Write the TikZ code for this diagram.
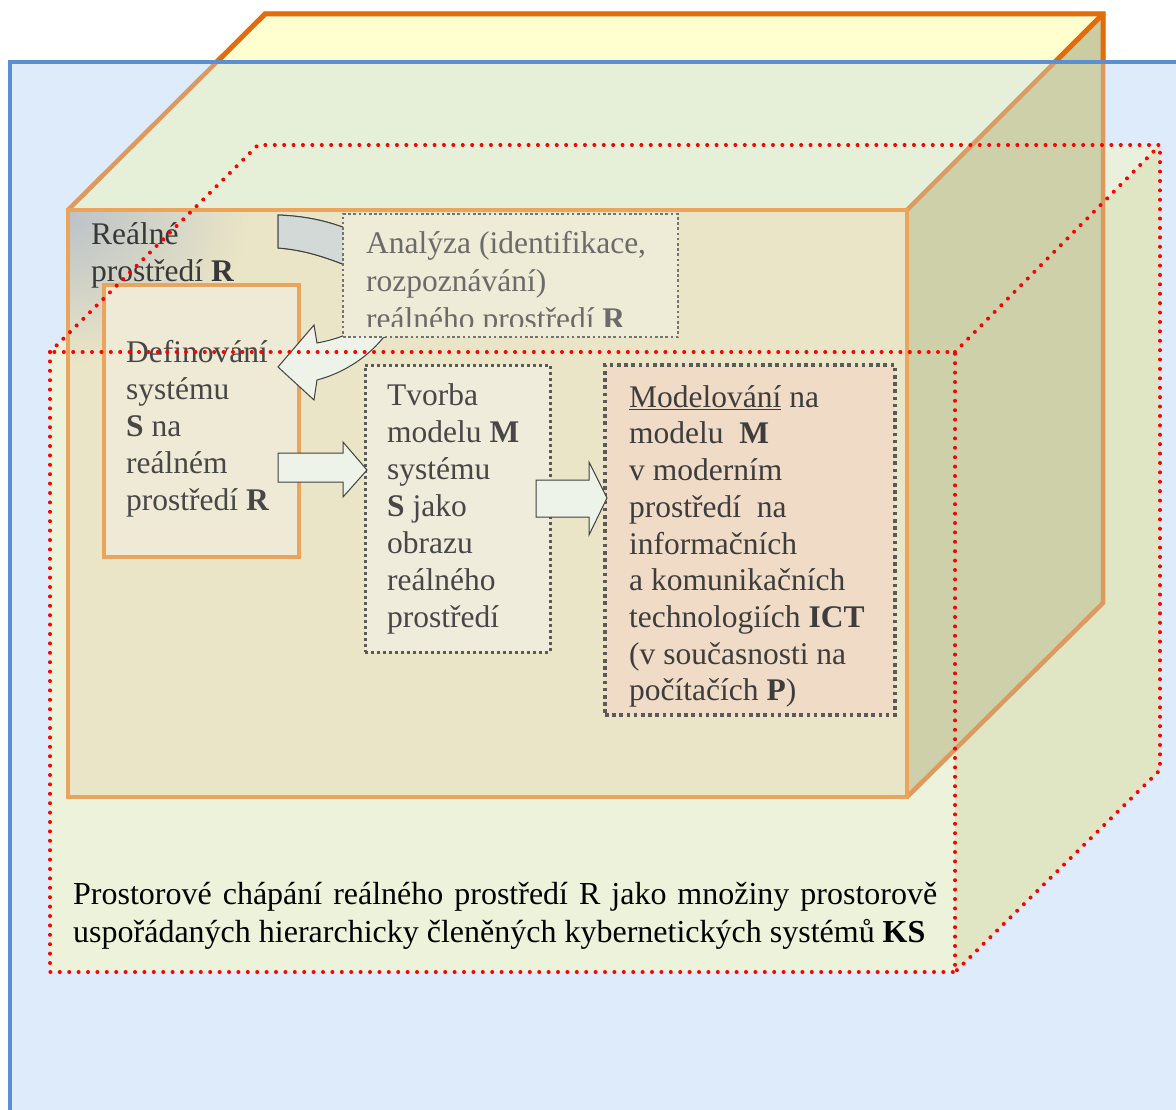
\documentclass[tikz,border=0pt]{standalone}
\usepackage{fontspec}
\setmainfont{Liberation Serif}
\definecolor{bluebg}{HTML}{DDEBFB}
\definecolor{blueline}{HTML}{5B8FD3}
\definecolor{redfront}{HTML}{EDF2DA}
\definecolor{redside}{HTML}{E0E6C4}
\definecolor{redtop}{HTML}{E9F1DC}
\definecolor{otop}{HTML}{E6F0D8}
\definecolor{otopS}{HTML}{FFFFD0}
\definecolor{oside}{HTML}{CDD0A9}
\definecolor{osideS}{HTML}{CCCCA2}
\definecolor{ofront}{HTML}{EAE5C6}
\definecolor{oedgeS}{HTML}{E36C09}
\definecolor{oedge}{HTML}{DC9A60}
\definecolor{ofedge}{HTML}{EBA45C}
\definecolor{gpatch}{HTML}{BAC2C8}
\definecolor{boxfill}{HTML}{EEEBD6}
\definecolor{deffill}{HTML}{EEEAD5}
\definecolor{tvfill}{HTML}{F0ECDC}
\definecolor{modfill}{HTML}{F0DCC6}
\definecolor{arrfill}{HTML}{EEF3EA}
\definecolor{tailfill}{HTML}{D2D9D6}
\definecolor{dotgray}{HTML}{5A5A5A}
\tikzset{
  txt/.style={anchor=base west, inner sep=0pt, font=\fontsize{31.5}{37}\selectfont},
  captxt/.style={anchor=base west, inner sep=0pt, font=\fontsize{32}{38}\selectfont},
  reddot/.style={draw=red, line width=4pt, dash pattern=on 0pt off 9.4pt, line cap=round},
  backedge/.style={draw=oedge, line width=4.5pt, line join=miter},
  backedgeS/.style={draw=oedgeS, line width=5pt, line join=miter},
  blockarrow/.style={fill=arrfill, draw=black!75, line width=1pt, line join=miter},
}
\begin{document}
\begin{tikzpicture}[x=1pt,y=-1pt]
\useasboundingbox (0,0) rectangle (1176,1110);
\fill[white] (0,0) rectangle (1176,1110);
% blue environment
\fill[bluebg] (10,62) rectangle (1180,1115);
% red dotted cube fills
\fill[redfront] (50,352) rectangle (955,972);
\fill[redside] (955,352) -- (1160,145) -- (1160,770) -- (955,972) -- cycle;
\fill[redtop] (50,352) -- (258,145) -- (1160,145) -- (955,352) -- cycle;
% orange cube
\fill[otop] (68,210) -- (265,14) -- (1103,14) -- (907,210) -- cycle;
\fill[oside] (907,210) -- (1103,14) -- (1103,603) -- (907,797) -- cycle;
\fill[ofront] (68,210) rectangle (907,797);
\begin{scope}
  \clip (68,210) rectangle (907,797);
  \shade[inner color=gpatch, outer color=ofront] (60,215) ellipse (190pt and 150pt);
\end{scope}
\draw[backedge] (68,210) -- (265,14) -- (1103,14) -- (1103,603) -- (907,797);
\draw[backedge] (907,210) -- (1103,14);
\begin{scope}
  \clip (0,0) rectangle (1176,62);
  \fill[otopS] (68,210) -- (265,14) -- (1103,14) -- (907,210) -- cycle;
  \fill[osideS] (907,210) -- (1103,14) -- (1103,603) -- (907,797) -- cycle;
  \draw[backedgeS] (68,210) -- (265,14) -- (1103,14) -- (1103,603);
  \draw[backedgeS] (907,210) -- (1103,14);
\end{scope}
\draw[draw=ofedge, line width=4pt] (68,210) rectangle (907,797);
% blue border
\draw[blueline, line width=4.5pt] (10,1115) -- (10,62) -- (1180,62);

% content of the front face
\node[txt, text=black!78] (real1) at (91,245) {Reálné};
\node[txt, text=black!78] (real2) at (91,282) {prostředí \textbf{R}};

\node[draw=ofedge, line width=3.5pt, fill=deffill, minimum width=195pt, minimum height=272pt, inner sep=0pt] (def) at (201.5,421) {};
\node[txt, text=black!72] at (126,362) {Definování};
\node[txt, text=black!72] at (126,399) {systému};
\node[txt, text=black!72] at (126,436) {\textbf{S} na};
\node[txt, text=black!72] at (126,473) {reálném};
\node[txt, text=black!72] at (126,510) {prostředí \textbf{R}};

% curved arrow (analysis -> definition)
\path[blockarrow] (278,215) .. controls (305,216) and (327,221) .. (345,228)
  .. controls (440,260) and (420,320) .. (383,338)
  .. controls (365,360) and (340,374) .. (317,380)
  -- (314,400) -- (278,367) -- (314,325) -- (317,343)
  .. controls (328,341) and (338,338) .. (345,335)
  .. controls (395,300) and (385,270) .. (345,265)
  .. controls (327,258) and (305,250) .. (278,248) -- cycle;
\path[fill=tailfill, draw=black!75, line width=1pt] (278,215) .. controls (305,216) and (327,221) .. (345,228)
  -- (345,265) .. controls (327,258) and (305,250) .. (278,248) -- cycle;

% analysis box
\node[fill=boxfill, draw=dotgray!85, line width=2.5pt, dash pattern=on 2.6pt off 2.6pt, minimum width=335pt, minimum height=123pt, inner sep=0pt] (ana) at (510.5,275.5) {};
\begin{scope}
  \clip (345,216) rectangle (676,326.5);
  \node[txt, text=black!58] at (366,254) {Analýza (identifikace,};
  \node[txt, text=black!58] at (366,291) {rozpoznávání)};
  \node[txt, text=black!58] at (366,329) {reálného prostředí \textbf{R}};
\end{scope}

% model creation box
\node[fill=tvfill, draw=dotgray, line width=3pt, dash pattern=on 3pt off 3pt, minimum width=185pt, minimum height=287pt, inner sep=0pt] (tvorba) at (457.5,508.5) {};
\node[txt, text=black!72] at (387,405) {Tvorba};
\node[txt, text=black!72] at (387,442) {modelu \textbf{M}};
\node[txt, text=black!72] at (387,479) {systému};
\node[txt, text=black!72] at (387,516) {\textbf{S} jako};
\node[txt, text=black!72] at (387,553) {obrazu};
\node[txt, text=black!72] at (387,590) {reálného};
\node[txt, text=black!72] at (387,627) {prostředí};

% modelling box
\node[fill=modfill, draw=dotgray, line width=4pt, dash pattern=on 3.6pt off 3.6pt, minimum width=290pt, minimum height=350pt, inner sep=0pt] (model) at (750,540) {};
\node[txt, text=black!76] at (629,407) {\underline{Modelování} na};
\node[txt, text=black!76] at (629,443) {modelu~~\textbf{M}};
\node[txt, text=black!76] at (629,480) {v moderním};
\node[txt, text=black!76] at (629,517) {prostředí~~na};
\node[txt, text=black!76] at (629,554) {informačních};
\node[txt, text=black!76] at (629,590) {a komunikačních};
\node[txt, text=black!76] at (629,627) {technologiích \textbf{ICT}};
\node[txt, text=black!76] at (629,664) {(v současnosti na};
\node[txt, text=black!76] at (629,700) {počítačích \textbf{P})};

% straight block arrows
\path[blockarrow] (278,453) -- (343,453) -- (343,442) -- (367,470) -- (343,497) -- (343,482) -- (278,482) -- cycle;
\path[blockarrow] (536,480) -- (589,480) -- (589,462) -- (607,498) -- (589,535) -- (589,517) -- (536,517) -- cycle;

% red dotted cube edges
\draw[reddot] (50,352) rectangle (955,972);
\draw[reddot] (50,352) -- (258,145) -- (1160,145) -- (1160,770) -- (955,972);
\draw[reddot] (955,352) -- (1160,145);

% caption
\node[captxt] (cap1) at (73,904)
  {\makebox[864pt][s]{Prostorové chápání reálného prostředí R jako množiny prostorově}};
\node[captxt] (cap2) at (73,942)
  {uspořádaných hierarchicky členěných kybernetických systémů \textbf{KS}};
\end{tikzpicture}
\end{document}
